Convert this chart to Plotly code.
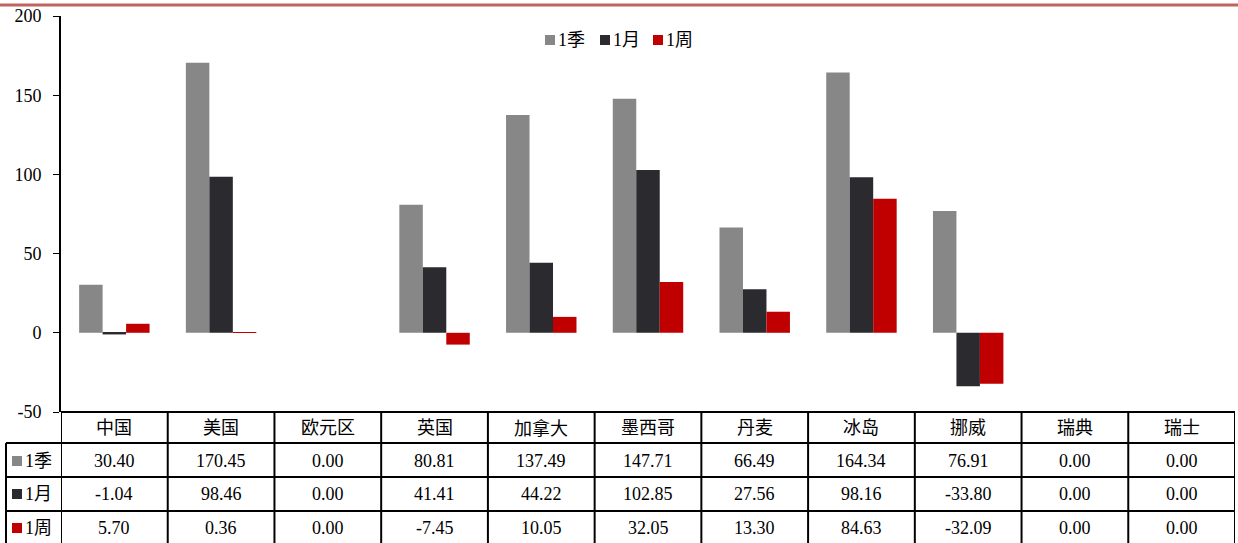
import plotly.graph_objects as go

categories = ["中国", "美国", "欧元区", "英国", "加拿大", "墨西哥", "丹麦", "冰岛", "挪威", "瑞典", "瑞士"]
series_names = ["1季", "1月", "1周"]
q1 = [30.40, 170.45, 0.00, 80.81, 137.49, 147.71, 66.49, 164.34, 76.91, 0.00, 0.00]
m1 = [-1.04, 98.46, 0.00, 41.41, 44.22, 102.85, 27.56, 98.16, -33.80, 0.00, 0.00]
w1 = [5.70, 0.36, 0.00, -7.45, 10.05, 32.05, 13.30, 84.63, -32.09, 0.00, 0.00]
colors = ["#878787", "#2B2A2F", "#C00000"]
y_ticks = [-50, 0, 50, 100, 150, 200]

W, H = 1238, 543
L, R, T, B = 61, 3, 16, 131
PW = W - L - R
PH = H - T - B
FONT = "Liberation Serif, Times New Roman, Noto Sans CJK SC, serif"
FS = 18


def py(pix):
    return (H - B - pix) / PH


def px(pix):
    return (pix - L) / PW


fig = go.Figure()
for name, vals, col in zip(series_names, [q1, m1, w1], colors):
    fig.add_trace(go.Bar(x=list(range(len(categories))), y=vals, name=name,
                         marker=dict(color=col, line=dict(width=0))))

shapes = []
annotations = []
# top decorative line
shapes.append(dict(type="line", xref="paper", yref="paper", x0=px(0), x1=px(W), y0=py(5), y1=py(5),
                   line=dict(color="#C0625E", width=3)))
lc = dict(color="black", width=2)
# horizontal table lines
shapes.append(dict(type="line", xref="paper", yref="paper", x0=0, x1=1, y0=0, y1=0, line=lc))
for yp in [443, 477, 511]:
    shapes.append(dict(type="line", xref="paper", yref="paper", x0=px(6), x1=1, y0=py(yp), y1=py(yp), line=lc))
# vertical lines
shapes.append(dict(type="line", xref="paper", yref="paper", x0=px(6), x1=px(6), y0=py(443), y1=py(H + 5), line=lc))
for i in range(len(categories) + 1):
    shapes.append(dict(type="line", xref="x", yref="paper", x0=i - 0.5, x1=i - 0.5, y0=0, y1=py(H + 5), line=lc))

txtfont = dict(family=FONT, size=FS, color="black")
row_centers = [461, 494, 528]
for i, c in enumerate(categories):
    annotations.append(dict(x=i, y=py(428), xref="x", yref="paper", text=c, showarrow=False,
                            xanchor="center", yanchor="middle", font=txtfont))
for r, vals in enumerate([q1, m1, w1]):
    for i, v in enumerate(vals):
        annotations.append(dict(x=i, y=py(row_centers[r]), xref="x", yref="paper", text=f"{v:.2f}",
                                showarrow=False, xanchor="center", yanchor="middle", font=txtfont))
    shapes.append(dict(type="rect", xref="paper", yref="paper", x0=px(12), x1=px(22),
                       y0=py(row_centers[r] - 5), y1=py(row_centers[r] + 5),
                       fillcolor=colors[r], line=dict(width=0)))
    annotations.append(dict(x=px(23), y=py(row_centers[r]), xref="paper", yref="paper", text=series_names[r],
                            showarrow=False, xanchor="left", yanchor="middle", font=txtfont))

# legend (drawn manually to match compact spacing)
leg_x = [545, 600, 653]
for k, (name, col) in enumerate(zip(series_names, colors)):
    shapes.append(dict(type="rect", xref="paper", yref="paper", x0=px(leg_x[k]), x1=px(leg_x[k] + 10),
                       y0=py(45), y1=py(35), fillcolor=col, line=dict(width=0)))
    annotations.append(dict(x=px(leg_x[k] + 11), y=py(40), xref="paper", yref="paper", text=name,
                            showarrow=False, xanchor="left", yanchor="middle", font=txtfont))

fig.update_layout(
    width=W, height=H,
    margin=dict(l=L, r=R, t=T, b=B),
    paper_bgcolor="white", plot_bgcolor="white",
    barmode="group", bargap=0.34, bargroupgap=0,
    font=dict(family=FONT, size=FS, color="black"),
    showlegend=False,
    xaxis=dict(range=[-0.5, len(categories) - 0.5], showticklabels=False, showgrid=False,
               zeroline=False, showline=False, ticks=""),
    yaxis=dict(range=[-50, 200], tickvals=y_ticks, ticktext=[str(v) for v in y_ticks],
               showgrid=False, zeroline=False, showline=True, linecolor="black", linewidth=2,
               ticks="outside", ticklen=6, tickcolor="black", tickwidth=1,
               ticklabelstandoff=8,
               tickfont=dict(family=FONT, size=FS)),
    shapes=shapes, annotations=annotations,
)

fig.write_html("out.html")
